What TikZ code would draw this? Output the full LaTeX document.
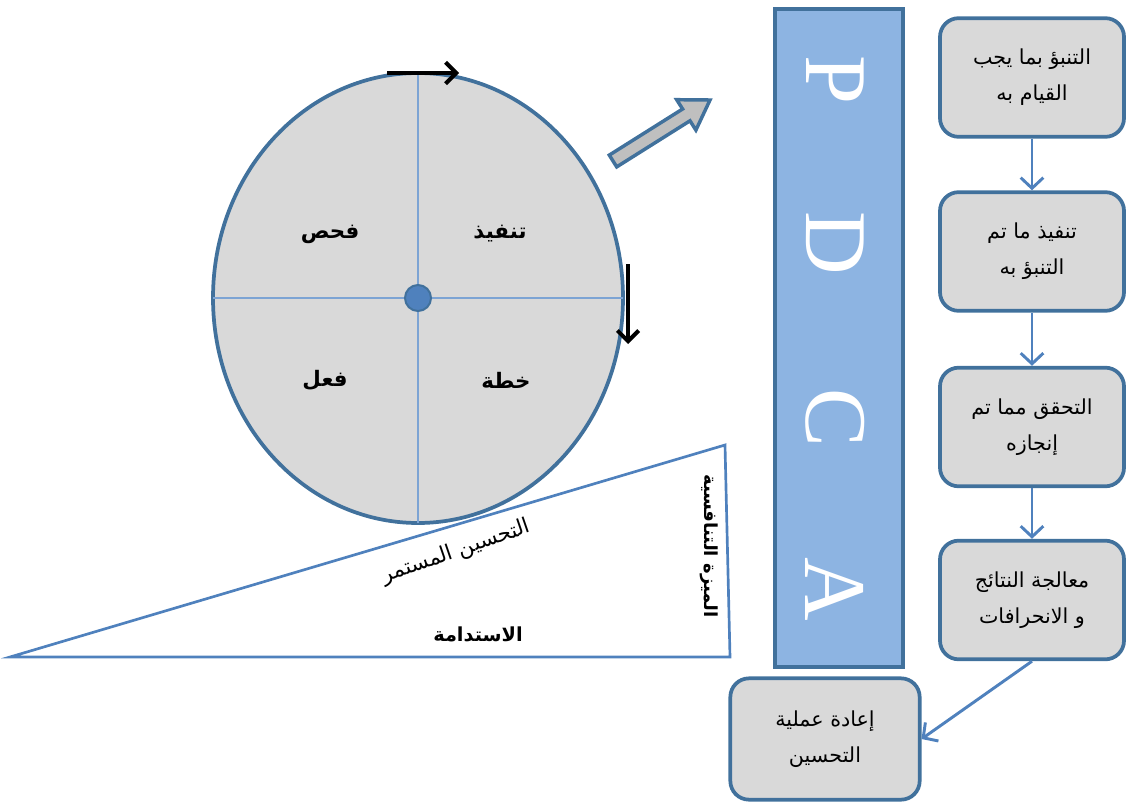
\documentclass[tikz,border=0pt]{standalone}
\usepackage{fontspec}
\usetikzlibrary{arrows.meta}
\TeXXeTstate=1
\newfontfamily\ar[Script=Arabic]{DejaVu Sans}
\setmainfont{Liberation Serif}
\definecolor{edgeblue}{HTML}{41719C}
\definecolor{lineblue}{HTML}{4F81BD}
\definecolor{boxgray}{HTML}{D9D9D9}
\definecolor{barblue}{HTML}{8DB4E2}
\definecolor{innerblue}{HTML}{7DA4D4}
\definecolor{arrowgray}{HTML}{BFBFBF}
\tikzset{
  stepbox/.style={draw=edgeblue, fill=boxgray, line width=2.8pt, rounded corners=14pt,
    minimum width=138pt, minimum height=89pt, align=center,
    font=\ar\fontsize{15.5}{27}\selectfont},
  flow/.style={draw=lineblue, line width=2.2pt, -{Straight Barb[length=8pt,width=17pt]}},
  turn/.style={draw=black, line width=3pt, -{Straight Barb[length=8pt,width=16pt]}},
  quad/.style={font=\ar\bfseries\fontsize{16}{18}\selectfont},
  letter/.style={text=white, rotate=-90, font=\fontsize{66}{66}\selectfont},
  tri/.style={draw=lineblue, line width=2pt},
  trilabel/.style={font=\ar\fontsize{16}{18}\selectfont}
}
\begin{document}
\begin{tikzpicture}[x=0.75pt,y=-0.75pt]
\useasboundingbox (0,0) rectangle (1128,803);

% triangle
\coordinate (tA) at (10,657);
\coordinate (tB) at (725,445);
\coordinate (tC) at (730,657);
\draw[tri] (tA) -- (tB) -- (tC) -- cycle;
\node[trilabel, rotate=19] (ci) at (456,552) {\beginR التحسين المستمر\endR};
\node[trilabel, font=\ar\bfseries\fontsize{14.5}{16}\selectfont] (sus) at (478,634) {\beginR الاستدامة\endR};
\node[trilabel, rotate=-90, font=\ar\bfseries\fontsize{13.5}{15}\selectfont] (adv) at (709,546) {\beginR الميزة التنافسية\endR};

% circle
\coordinate (cc) at (418,298);
\draw[edgeblue, fill=boxgray, line width=2.8pt] (cc) ellipse [x radius=205, y radius=225];
\draw[innerblue, line width=1.8pt] (418,73) -- (418,523);
\draw[innerblue, line width=1.8pt] (213,298) -- (623,298);
\draw[edgeblue, fill=lineblue, line width=1.5pt] (cc) circle [radius=13];
\node[quad] (q1) at (330,234) {\beginR فحص\endR};
\node[quad] (q2) at (500,234) {\beginR تنفيذ\endR};
\node[quad] (q3) at (325,380) {\beginR فعل\endR};
\node[quad] (q4) at (506,380) {\beginR خطة\endR};

% rotation arrows
\coordinate (r1s) at (387,73);
\coordinate (r1e) at (459,73);
\coordinate (r2s) at (628,264);
\coordinate (r2e) at (628,344);
\draw[turn] (r1s) -- (r1e);
\draw[turn] (r2s) -- (r2e);

% block arrow
\draw[edgeblue, fill=arrowgray, line width=2.6pt, line join=miter]
  (616.7,166.9) -- (609.3,155.1) -- (682.6,109.0) -- (676.7,99.7) -- (710,100)
  -- (695.9,130.1) -- (690.0,120.8) -- cycle;

% PDCA bar
\node[draw=edgeblue, fill=barblue, line width=2.8pt, minimum width=96pt, minimum height=493pt] (bar) at (839,338) {};
\node[letter] (lp) at (835,80) {P};
\node[letter] (ld) at (835,243) {D};
\node[letter] (lc) at (835,418) {C};
\node[letter] (la) at (835,589) {A};

% flow boxes
\node[stepbox] (b1) at (1032,77.5) {\beginR التنبؤ بما يجب\endR\\\beginR القيام به\endR};
\node[stepbox] (b2) at (1032,251.5) {\beginR تنفيذ ما تم\endR\\\beginR التنبؤ به\endR};
\node[stepbox] (b3) at (1032,427) {\beginR التحقق مما تم\endR\\\beginR إنجازه\endR};
\node[stepbox] (b4) at (1032,600) {\beginR معالجة النتائج\endR\\\beginR و الانحرافات\endR};
\node[stepbox, minimum width=142pt, minimum height=91pt] (b5) at (825,739) {\beginR إعادة عملية\endR\\\beginR التحسين\endR};

\draw[flow] (b1) -- (b2);
\draw[flow] (b2) -- (b3);
\draw[flow] (b3) -- (b4);
\draw[flow] (b4.south) -- (b5.east);
\end{tikzpicture}
\end{document}
